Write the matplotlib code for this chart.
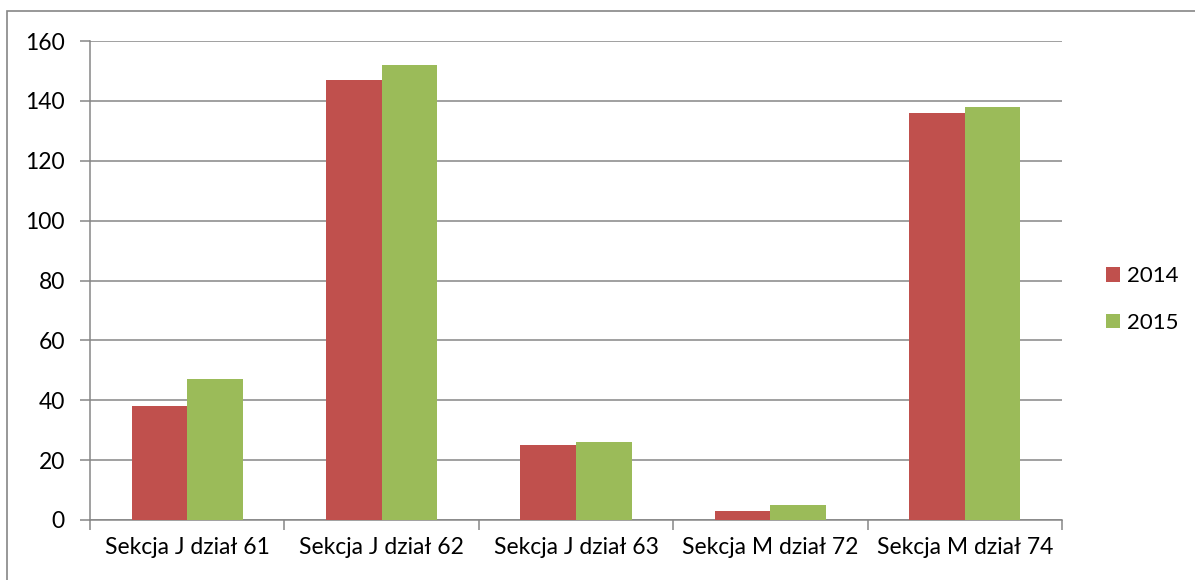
import matplotlib.pyplot as plt
import numpy as np
from matplotlib.patches import Rectangle

# data
categories = ['Sekcja J dział 61', 'Sekcja J dział 62', 'Sekcja J dział 63',
              'Sekcja M dział 72', 'Sekcja M dział 74']
years = ['2014', '2015']
values_2014 = [38, 147, 25, 3, 136]
values_2015 = [47, 152, 26, 5, 138]
yticks = [0, 20, 40, 60, 80, 100, 120, 140, 160]

plt.rcParams['font.family'] = ['Lato', 'DejaVu Sans']
fs = 16.5

fig = plt.figure(figsize=(11.95, 5.8), dpi=100)
W, H = 1195, 580
ax = fig.add_axes([90 / W, 1 - 520 / H, (1062 - 90) / W, (520 - 41) / H])

# outer chart border (only top/left visible in the crop)
fig.patches.append(Rectangle((7 / W, -0.1), 1.2, 1 - 11 / H + 0.1,
                             transform=fig.transFigure, fill=False,
                             edgecolor='#868686', linewidth=1.2))

x = np.arange(len(categories))
bw = 1 / 3.5
ax.bar(x - bw / 2, values_2014, bw, color='#C0504D', label=years[0], zorder=3)
ax.bar(x + bw / 2, values_2015, bw, color='#9BBB59', label=years[1], zorder=3)

ax.set_xlim(-0.5, len(categories) - 0.5)
ax.set_ylim(0, 160)
ax.set_yticks(yticks)
ax.yaxis.grid(True, color='#868686', linewidth=1.1, zorder=0)

ax.set_xticks(x)
ax.set_xticklabels(categories, fontsize=fs)
ax.tick_params(axis='x', length=0, pad=12)
ax.set_xticks(np.arange(len(categories) + 1) - 0.5, minor=True)
ax.tick_params(axis='x', which='minor', length=7, width=1.1, color='#868686')
ax.tick_params(axis='y', length=7, width=1.1, color='#868686', labelsize=fs, pad=11)

for side in ['top', 'right']:
    ax.spines[side].set_visible(False)
for side in ['left', 'bottom']:
    ax.spines[side].set_color('#868686')
    ax.spines[side].set_linewidth(1.1)

ax.legend(loc='center left', bbox_to_anchor=(1.025, 0.46), frameon=False,
          fontsize=16, handlelength=0.6, handleheight=0.6, handletextpad=0.35,
          labelspacing=1.2)

fig.savefig('out.png', dpi=100)
